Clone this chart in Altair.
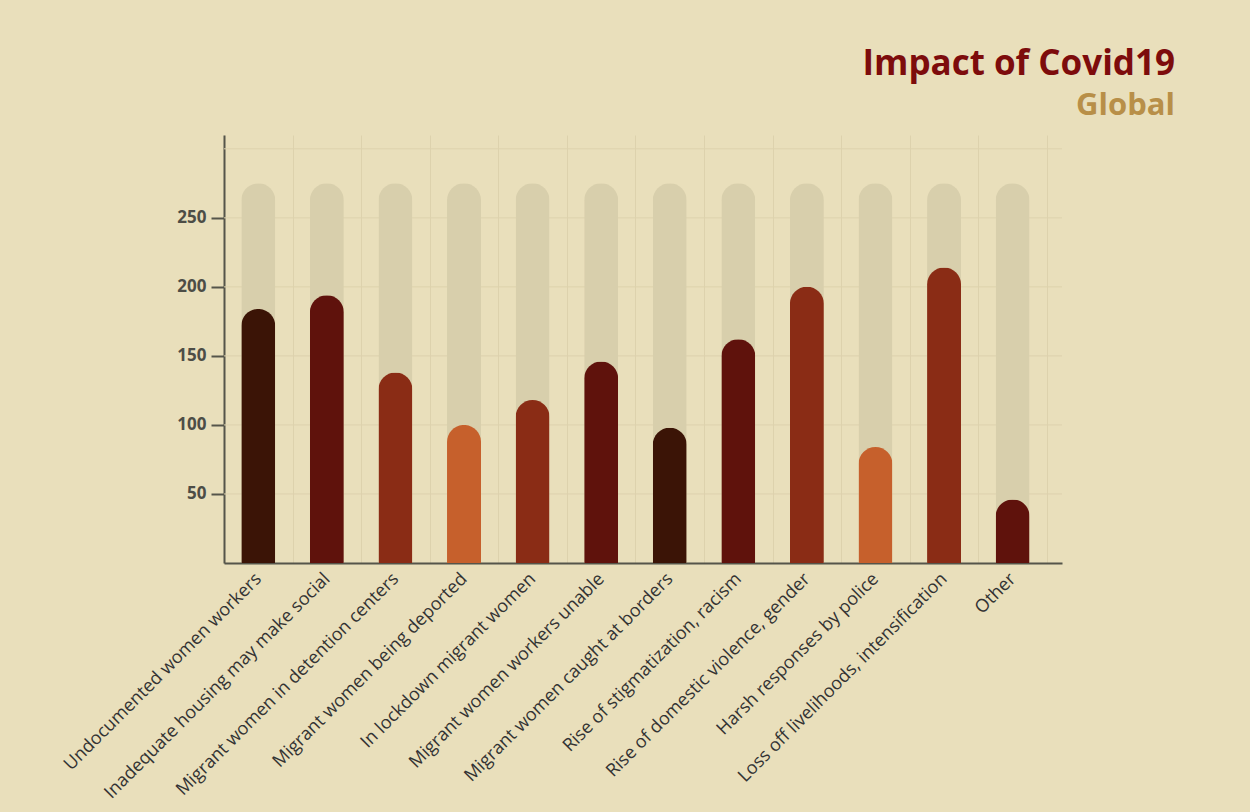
import altair as alt
import pandas as pd

categories = [
    "Undocumented women workers",
    "Inadequate housing may make social",
    "Migrant women in detention centers",
    "Migrant women being deported",
    "In lockdown migrant women",
    "Migrant women workers unable",
    "Migrant women caught at borders",
    "Rise of stigmatization, racism",
    "Rise of domestic violence, gender",
    "Harsh responses by police",
    "Loss off livelihoods, intensification",
    "Other",
]
values = [184, 194, 138, 100, 118, 146, 98, 162, 200, 84, 214, 46]
tone = ["dark", "maroon", "rust", "orange", "rust", "maroon", "dark", "maroon", "rust", "orange", "rust", "maroon"]
track_max = [275] * 12
grid_values = [50, 100, 150, 200, 250, 300]
y_tick_values = [50, 100, 150, 200, 250]

tone_names = ["dark", "maroon", "rust", "orange"]
tone_colors = ["#3b1406", "#5f120c", "#8a2c15", "#c6602c"]

df = pd.DataFrame({"category": categories, "value": values, "tone": tone, "track": track_max})
grid_df = pd.DataFrame({"g": grid_values})

BG = "#e9dfbb"
FONT = "Open Sans"

x_enc = alt.X(
    "category:N",
    sort=categories,
    title=None,
    scale=alt.Scale(paddingInner=0, paddingOuter=0.11, align=0),
    axis=alt.Axis(
        labelAngle=-45,
        labelAlign="right",
        labelBaseline="middle",
        labelFontSize=18,
        labelFont=FONT,
        labelColor="#333333",
        labelPadding=13,
        labelLimit=400,
        ticks=False,
        tickBand="extent",
        grid=True,
        gridColor="#ddd2ad",
        gridWidth=1,
        domainColor="#55554a",
        domainWidth=2,
    ),
)

y_scale = alt.Scale(domain=[0, 310], nice=False)

grid = alt.Chart(grid_df).mark_rule(color="#ddd2ad", strokeWidth=1).encode(
    y=alt.Y("g:Q", scale=y_scale),
)

track = alt.Chart(df).mark_bar(
    size=34, color="#d8cfac", cornerRadiusTopLeft=17, cornerRadiusTopRight=17
).encode(
    x=x_enc,
    y=alt.Y(
        "track:Q",
        scale=y_scale,
        title=None,
        axis=alt.Axis(
            values=y_tick_values,
            grid=False,
            labelFontSize=17,
            labelFont=FONT,
            labelFontWeight="bold",
            labelColor="#4d4d46",
            labelPadding=5,
            tickSize=13,
            tickColor="#55554a",
            tickWidth=2,
            domainColor="#55554a",
            domainWidth=2,
        ),
    ),
)

bars = alt.Chart(df).mark_bar(
    size=34, cornerRadiusTopLeft=17, cornerRadiusTopRight=17
).encode(
    x=alt.X("category:N", sort=categories),
    y=alt.Y("value:Q", scale=y_scale),
    color=alt.Color("tone:N", scale=alt.Scale(domain=tone_names, range=tone_colors), legend=None),
)

chart = (
    alt.layer(grid, track, bars)
    .properties(
        width=838,
        height=428,
        background=BG,
        padding={"left": 224, "top": 135, "right": 188, "bottom": 249},
        autosize=alt.AutoSizeParams(type="none"),
        title=alt.TitleParams(
            text="Impact of Covid19",
            subtitle="Global",
            anchor="end",
            frame="group",
            dx=113,
            offset=14,
            font=FONT,
            fontSize=35,
            fontWeight="bold",
            color="#7d0c0c",
            subtitleFont=FONT,
            subtitleFontSize=31,
            subtitleFontWeight="bold",
            subtitleColor="#b88f48",
            subtitlePadding=9,
        ),
    )
    .configure_view(stroke=None, fill=BG)
)

chart.save("out.html", embed_options={"renderer": "svg", "actions": False})
